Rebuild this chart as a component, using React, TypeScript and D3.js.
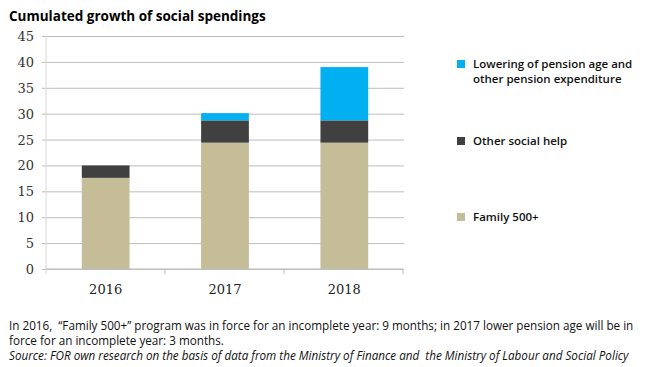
import * as d3 from 'd3'
import { useEffect, useRef } from 'react'

const years = ['2016', '2017', '2018']
const family = [17.6, 24.4, 24.4]
const otherHelp = [2.4, 4.3, 4.3]
const pension = [0, 1.4, 10.3]
const yTicks = [0, 5, 10, 15, 20, 25, 30, 35, 40, 45]

const seriesNames = ['Family 500+', 'Other social help', 'Lowering of pension age and other pension expenditure']
const colors = ['#C4BD97', '#404040', '#00B0F0']

export default function App() {
    const svgRef = useRef<SVGSVGElement>(null)

    useEffect(() => {
        makeChart()
    }, [])

    function makeChart() {
        const width = 663
        const height = 367
        const left = 46
        const right = 404
        const top = 36
        const bottom = 269

        const svg = d3.select(svgRef.current).attr('width', width).attr('height', height)
        svg.selectAll('*').remove()

        const rows = years.map((y, i) => ({ year: y, family: family[i], other: otherHelp[i], pension: pension[i] }))
        const stack = d3.stack<any>().keys(['family', 'other', 'pension'])(rows)

        const xScale = d3.scaleBand().domain(years).range([left, right]).paddingInner(0.6).paddingOuter(0.3)
        const yScale = d3.scaleLinear().domain([0, 45]).range([bottom, top])

        // title
        svg.append('text').attr('x', 9).attr('y', 21)
            .attr('font-family', '"Open Sans", sans-serif').attr('font-weight', 'bold')
            .attr('font-size', 13.5).attr('fill', '#000').text('Cumulated growth of social spendings')

        // grid
        const grid = d3.axisLeft(yScale).tickValues(yTicks).tickSize(-(right - left + 4)).tickFormat(() => '')
        svg.append('g').attr('transform', `translate(${left - 4}, 0)`).call(grid)
            .call(g => g.select('.domain').remove())
            .call(g => g.selectAll('line').attr('stroke', '#BDBDBD'))

        // y labels
        svg.append('g').selectAll('text').data(yTicks).enter().append('text')
            .attr('x', 34).attr('y', d => yScale(d) + 5)
            .attr('text-anchor', 'end')
            .attr('font-family', '"DejaVu Serif", serif').attr('font-size', 13)
            .attr('fill', '#333').text(d => d)

        // left axis line
        svg.append('line').attr('x1', left).attr('x2', left).attr('y1', top).attr('y2', bottom + 5)
            .attr('stroke', '#D9D9D9')

        // bars
        svg.append('g').selectAll('g').data(stack).enter().append('g')
            .attr('fill', (_d, i) => colors[i])
            .selectAll('rect').data(d => d).enter().append('rect')
            .attr('x', d => xScale(d.data.year)!)
            .attr('width', xScale.bandwidth())
            .attr('y', d => yScale(d[1]))
            .attr('height', d => yScale(d[0]) - yScale(d[1]))

        // bottom axis
        svg.append('line').attr('x1', left).attr('x2', right - 1).attr('y1', bottom).attr('y2', bottom)
            .attr('stroke', '#BDBDBD')
        const sepX = d3.range(1, years.length + 1).map(i => left + i * (right - 1 - left) / years.length)
        svg.append('g').selectAll('line').data(sepX).enter().append('line')
            .attr('x1', d => d).attr('x2', d => d).attr('y1', bottom).attr('y2', bottom + 5)
            .attr('stroke', '#BDBDBD')
        svg.append('g').selectAll('text').data(years).enter().append('text')
            .attr('x', d => xScale(d)! + xScale.bandwidth() / 2)
            .attr('y', bottom + 25)
            .attr('text-anchor', 'middle')
            .attr('font-family', '"DejaVu Serif", serif').attr('font-size', 13)
            .attr('fill', '#222').text(d => d)

        // legend
        const legendY = [217, 141, 64]
        const legend = svg.append('g').attr('font-family', '"Open Sans", sans-serif')
            .attr('font-size', 11.5).attr('font-weight', 600).attr('fill', '#111')
        seriesNames.forEach((name, i) => {
            legend.append('rect').attr('x', 457).attr('y', legendY[i] - 4).attr('width', 8).attr('height', 8)
                .attr('fill', colors[i])
            if (i === 2) {
                legend.append('text').attr('x', 473).attr('y', legendY[i] + 4).text('Lowering of pension age and')
                legend.append('text').attr('x', 473).attr('y', legendY[i] + 19).text('other pension expenditure')
            } else {
                legend.append('text').attr('x', 473).attr('y', legendY[i] + 4).text(name)
            }
        })

        // notes
        const notes = svg.append('g').attr('font-family', '"Open Sans", sans-serif').attr('font-size', 11.7)
            .attr('fill', '#111')
        const noteLines = [
            'In 2016,  \u201cFamily 500+\u201d program was in force for an incomplete year: 9 months; in 2017 lower pension age will be in',
            'force for an incomplete year: 3 months.',
            'Source: FOR own research on the basis of data from the Ministry of Finance and  the Ministry of Labour and Social Policy'
        ]
        noteLines.forEach((line, i) => {
            notes.append('text').attr('x', 9).attr('y', 330 + i * 15)
                .attr('font-style', i === 2 ? 'italic' : 'normal')
                .style('white-space', 'pre')
                .text(line)
        })
    }

    return (
        <svg ref={svgRef} style={{ position: 'absolute', left: 0, top: 0 }}></svg>
    )
}
